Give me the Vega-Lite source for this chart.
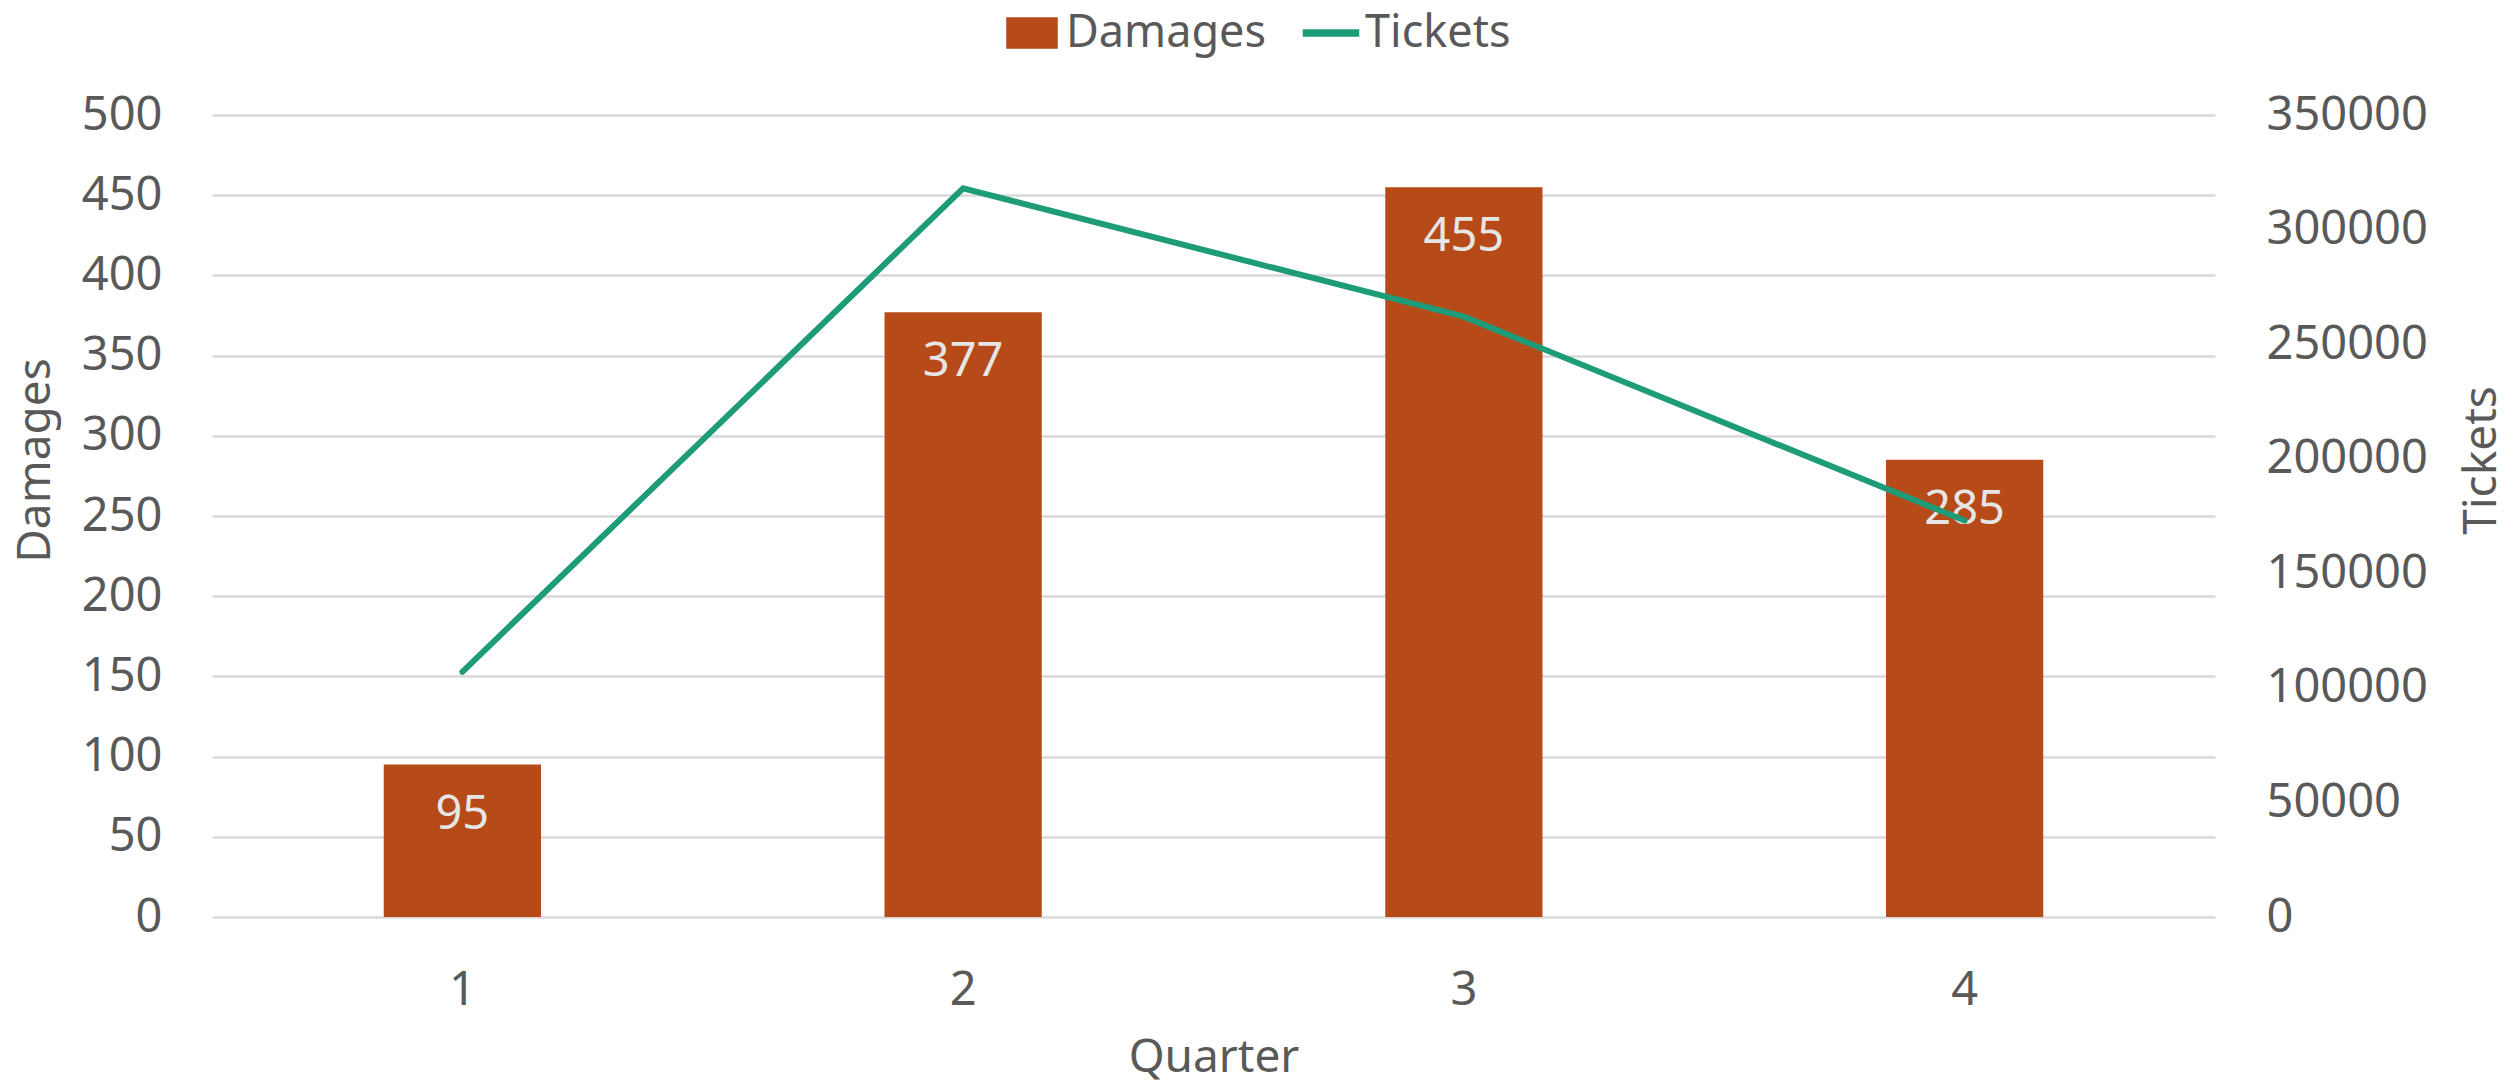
{
  "$schema": "https://vega.github.io/schema/vega-lite/v6.json",
  "autosize": "none",
  "width": 2003,
  "height": 802,
  "padding": {"left": 212, "top": 115, "right": 302, "bottom": 166},
  "background": "white",
  "config": {
    "view": {"stroke": null},
    "font": "Noto Sans",
    "axis": {
      "labelFont": "Noto Sans",
      "titleFont": "Noto Sans",
      "labelFontSize": 47,
      "titleFontSize": 46,
      "labelColor": "#595959",
      "titleColor": "#595959",
      "titleFontWeight": "normal",
      "domain": false,
      "ticks": false
    },
    "legend": {
      "labelFont": "Noto Sans",
      "labelFontSize": 45,
      "labelColor": "#595959",
      "labelLimit": 0
    }
  },
  "data": {
    "values": [
      {"Quarter": "1", "Damages": 95, "Tickets": 107000},
      {"Quarter": "2", "Damages": 377, "Tickets": 318000},
      {"Quarter": "3", "Damages": 455, "Tickets": 262000},
      {"Quarter": "4", "Damages": 285, "Tickets": 173000}
    ]
  },
  "encoding": {
    "x": {
      "field": "Quarter",
      "type": "ordinal",
      "scale": {"paddingInner": 0.686, "paddingOuter": 0.343},
      "axis": {"labelAngle": 0, "labelPadding": 50, "title": "Quarter", "titlePadding": 22, "grid": false}
    }
  },
  "layer": [
    {
      "mark": {"type": "bar", "color": "#B64A18"},
      "encoding": {
        "y": {
          "field": "Damages",
          "type": "quantitative",
          "scale": {"domain": [0, 500], "nice": false},
          "axis": {
            "title": "Damages",
            "values": [0, 50, 100, 150, 200, 250, 300, 350, 400, 450, 500],
            "labelPadding": 50,
            "titlePadding": 22,
            "titleY": 345,
            "grid": true,
            "gridColor": "#D9D9D9",
            "gridWidth": 2.5
          }
        },
        "color": {
          "datum": "Damages",
          "scale": {"domain": ["Damages", "Tickets"], "range": ["#B64A18", "#1E9C77"]},
          "legend": {
            "title": null,
            "orient": "none",
            "direction": "horizontal",
            "legendX": 794,
            "legendY": -108,
            "padding": 0,
            "symbolSize": 2500,
            "labelOffset": 8,
            "labelLimit": 0,
            "columnPadding": 33,
            "encode": {
              "symbols": {
                "update": {
                  "shape": {"signal": "datum.value === 'Damages' ? 'M-1,-0.6H1V0.6H-1Z' : 'M-1.1,-0.12H1.1V0.12H-1.1Z'"},
                  "fill": {"signal": "datum.value === 'Damages' ? '#B64A18' : '#1E9C77'"},
                  "stroke": {"value": "transparent"},
                  "opacity": {"value": 1}
                }
              }
            }
          }
        }
      }
    },
    {
      "mark": {"type": "text", "baseline": "middle", "dy": 50, "fontSize": 47, "font": "Noto Sans", "color": "#E6E6E6"},
      "encoding": {
        "y": {
          "field": "Damages",
          "type": "quantitative",
          "scale": {"domain": [0, 500], "nice": false},
          "axis": null
        },
        "text": {"field": "Damages", "type": "quantitative"}
      }
    },
    {
      "mark": {"type": "line", "strokeWidth": 6, "strokeCap": "round", "color": "#1E9C77"},
      "encoding": {
        "y": {
          "field": "Tickets",
          "type": "quantitative",
          "scale": {"domain": [0, 350000], "nice": false},
          "axis": {
            "orient": "right",
            "title": "Tickets",
            "values": [0, 50000, 100000, 150000, 200000, 250000, 300000, 350000],
            "format": "d",
            "labelPadding": 51,
            "titlePadding": 90,
            "titleAngle": 270,
            "titleY": 345,
            "grid": false
          }
        },
        "color": {"datum": "Tickets"}
      }
    }
  ],
  "resolve": {"scale": {"y": "independent"}}
}
